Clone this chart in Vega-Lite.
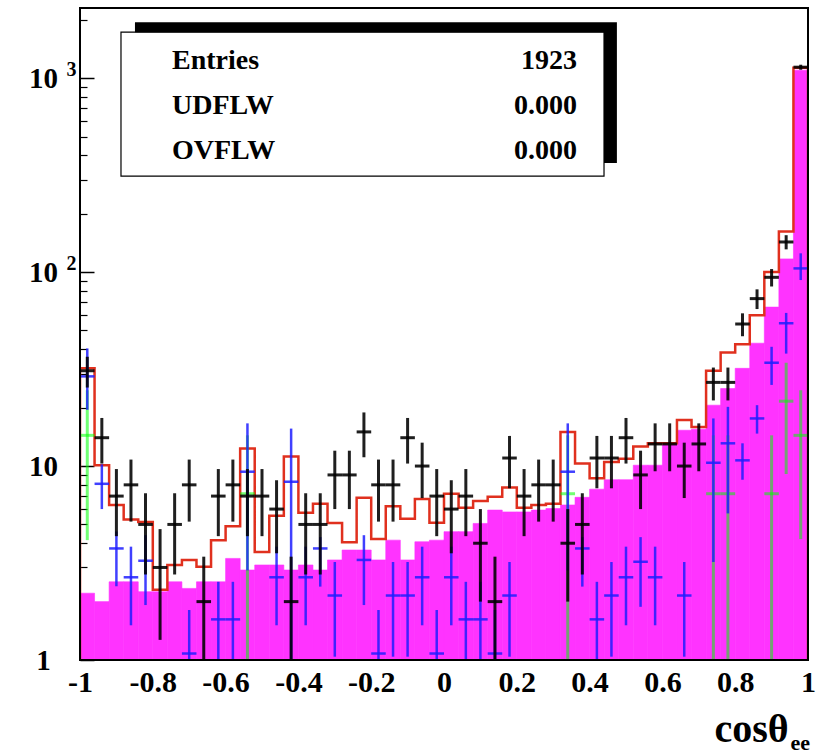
{
  "$schema": "https://vega.github.io/schema/vega-lite/v6.json",
  "width": 728,
  "height": 652,
  "autosize": "none",
  "padding": {"left": 80, "top": 8, "right": 8, "bottom": 93},
  "background": "white",
  "config": {"view": {"stroke": null}, "font": "Liberation Serif"},
  "datasets": {
    "h": [
      {"x":-0.98,"lo":-1,"hi":-0.96,"m":2.21,"d":31,"dlo":25.4,"dhi":36.6,"b":29,"blo":19.5,"bhi":40.4,"g":14.4,"glo":4.15,"ghi":24.6},
      {"x":-0.94,"lo":-0.96,"hi":-0.92,"m":2.0,"d":14,"dlo":10.3,"dhi":17.7,"b":8.1,"blo":6.0,"bhi":10.2},
      {"x":-0.90,"lo":-0.92,"hi":-0.88,"m":2.53,"d":7,"dlo":4.35,"dhi":9.65,"b":3.76,"blo":2.4,"bhi":4.6},
      {"x":-0.86,"lo":-0.88,"hi":-0.84,"m":2.53,"d":8,"dlo":5.17,"dhi":10.8,"b":2.67,"blo":1.51,"bhi":3.84},
      {"x":-0.82,"lo":-0.84,"hi":-0.80,"m":2.25,"d":5,"dlo":2.76,"dhi":7.24,"b":3.25,"blo":1.92,"bhi":4.4},
      {"x":-0.78,"lo":-0.80,"hi":-0.76,"m":2.25,"d":3,"dlo":1.27,"dhi":4.73},
      {"x":-0.74,"lo":-0.76,"hi":-0.72,"m":2.53,"d":5,"dlo":2.76,"dhi":7.24},
      {"x":-0.70,"lo":-0.72,"hi":-0.68,"m":2.34,"d":8,"dlo":5.17,"dhi":10.8,"b":1.08,"blo":1,"bhi":1.81},
      {"x":-0.66,"lo":-0.68,"hi":-0.64,"m":2.53,"d":2,"dlo":1,"dhi":3.41},
      {"x":-0.62,"lo":-0.64,"hi":-0.60,"m":2.53,"d":7,"dlo":4.35,"dhi":9.65,"b":1.62,"blo":1,"bhi":2.53},
      {"x":-0.58,"lo":-0.60,"hi":-0.56,"m":3.34,"d":8,"dlo":5.17,"dhi":10.8,"b":1.62,"blo":1,"bhi":2.53},
      {"x":-0.54,"lo":-0.56,"hi":-0.52,"m":2.91,"d":7,"dlo":4.35,"dhi":9.65,"b":9.35,"blo":2.9,"bhi":16.6,"g":7.2,"glo":1,"ghi":14.4},
      {"x":-0.50,"lo":-0.52,"hi":-0.48,"m":3.09,"d":7,"dlo":4.35,"dhi":9.65},
      {"x":-0.46,"lo":-0.48,"hi":-0.44,"m":3.09,"d":6,"dlo":3.55,"dhi":8.45,"b":2.67,"blo":1.51,"bhi":3.84},
      {"x":-0.42,"lo":-0.44,"hi":-0.40,"m":2.91,"d":2,"dlo":1,"dhi":3.41,"b":8.3,"blo":1,"bhi":15.6},
      {"x":-0.38,"lo":-0.40,"hi":-0.36,"m":3.09,"d":5,"dlo":2.76,"dhi":7.24,"b":2.67,"blo":1.51,"bhi":3.84},
      {"x":-0.34,"lo":-0.36,"hi":-0.32,"m":2.91,"d":5,"dlo":2.76,"dhi":7.24,"b":3.76,"blo":2.39,"bhi":4.3},
      {"x":-0.30,"lo":-0.32,"hi":-0.28,"m":3.28,"d":9,"dlo":6,"dhi":12,"b":2.15,"blo":1.04,"bhi":3.2},
      {"x":-0.26,"lo":-0.28,"hi":-0.24,"m":3.69,"d":9,"dlo":6,"dhi":12},
      {"x":-0.22,"lo":-0.24,"hi":-0.20,"m":3.69,"d":15,"dlo":11.1,"dhi":18.9,"b":3.28,"blo":1.92,"bhi":4.4},
      {"x":-0.18,"lo":-0.20,"hi":-0.16,"m":3.28,"d":8,"dlo":5.17,"dhi":10.8,"b":1.08,"blo":1,"bhi":1.81},
      {"x":-0.14,"lo":-0.16,"hi":-0.12,"m":4.15,"d":8,"dlo":5.17,"dhi":10.8,"b":2.15,"blo":1.04,"bhi":3.2},
      {"x":-0.10,"lo":-0.12,"hi":-0.08,"m":3.28,"d":14,"dlo":10.3,"dhi":17.7,"b":2.15,"blo":1.04,"bhi":3.2},
      {"x":-0.06,"lo":-0.08,"hi":-0.04,"m":4.07,"d":10,"dlo":6.84,"dhi":13.2,"b":2.67,"blo":1.51,"bhi":3.84},
      {"x":-0.02,"lo":-0.04,"hi":0,"m":4.15,"d":7,"dlo":4.35,"dhi":9.65,"b":1.08,"blo":1,"bhi":1.81},
      {"x":0.02,"lo":0,"hi":0.04,"m":4.59,"d":6,"dlo":3.55,"dhi":8.45,"b":2.67,"blo":1.51,"bhi":3.84},
      {"x":0.06,"lo":0.04,"hi":0.08,"m":4.59,"d":7,"dlo":4.35,"dhi":9.65,"b":1.62,"blo":1,"bhi":2.53},
      {"x":0.10,"lo":0.08,"hi":0.12,"m":5.06,"d":4,"dlo":2,"dhi":6,"b":1.62,"blo":1,"bhi":2.53},
      {"x":0.14,"lo":0.12,"hi":0.16,"m":5.93,"d":2,"dlo":1,"dhi":3.41,"b":1.08,"blo":1,"bhi":1.81},
      {"x":0.18,"lo":0.16,"hi":0.20,"m":5.8,"d":11,"dlo":7.68,"dhi":14.3,"b":2.15,"blo":1.04,"bhi":3.2},
      {"x":0.22,"lo":0.20,"hi":0.24,"m":5.8,"d":7,"dlo":4.35,"dhi":9.65},
      {"x":0.26,"lo":0.24,"hi":0.28,"m":5.93,"d":8,"dlo":5.17,"dhi":10.8},
      {"x":0.30,"lo":0.28,"hi":0.32,"m":6.04,"d":8,"dlo":5.17,"dhi":10.8},
      {"x":0.34,"lo":0.32,"hi":0.36,"m":6.3,"d":4,"dlo":2,"dhi":6,"b":9.35,"blo":2.9,"bhi":16.6,"g":7.2,"glo":1,"ghi":14.4},
      {"x":0.38,"lo":0.36,"hi":0.40,"m":6.9,"d":5,"dlo":2.76,"dhi":7.24,"b":3.76,"blo":2.39,"bhi":4.3},
      {"x":0.42,"lo":0.40,"hi":0.44,"m":7.6,"d":11,"dlo":7.68,"dhi":14.3,"b":1.62,"blo":1,"bhi":2.53},
      {"x":0.46,"lo":0.44,"hi":0.48,"m":8.5,"d":11,"dlo":7.68,"dhi":14.3,"b":2.15,"blo":1.04,"bhi":3.2},
      {"x":0.50,"lo":0.48,"hi":0.52,"m":8.5,"d":14,"dlo":10.3,"dhi":17.7,"b":2.67,"blo":1.51,"bhi":3.84},
      {"x":0.54,"lo":0.52,"hi":0.56,"m":10.1,"d":9,"dlo":6,"dhi":12,"b":3.21,"blo":1.88,"bhi":4.3},
      {"x":0.58,"lo":0.56,"hi":0.60,"m":10.1,"d":13,"dlo":9.4,"dhi":16.6,"b":2.67,"blo":1.51,"bhi":3.84},
      {"x":0.62,"lo":0.60,"hi":0.64,"m":12.9,"d":13,"dlo":9.4,"dhi":16.6},
      {"x":0.66,"lo":0.64,"hi":0.68,"m":15.3,"d":10,"dlo":6.84,"dhi":13.2,"b":2.15,"blo":1.04,"bhi":3.2},
      {"x":0.70,"lo":0.68,"hi":0.72,"m":15.5,"d":13,"dlo":9.4,"dhi":16.6},
      {"x":0.74,"lo":0.72,"hi":0.76,"m":20.6,"d":27,"dlo":21.8,"dhi":32.2,"b":10.4,"blo":3.2,"bhi":17.6,"g":7.2,"glo":1,"ghi":14.4},
      {"x":0.78,"lo":0.76,"hi":0.80,"m":25.1,"d":27,"dlo":21.8,"dhi":32.2,"b":13.1,"blo":5.7,"bhi":20.2,"g":7.2,"glo":1,"ghi":14.4},
      {"x":0.82,"lo":0.80,"hi":0.84,"m":31.9,"d":54,"dlo":46.7,"dhi":61.3,"b":10.7,"blo":8.5,"bhi":13.1},
      {"x":0.86,"lo":0.84,"hi":0.88,"m":43,"d":73,"dlo":64.5,"dhi":81.5,"b":17.6,"blo":14.7,"bhi":20.6},
      {"x":0.90,"lo":0.88,"hi":0.92,"m":66,"d":94,"dlo":84.3,"dhi":103.7,"b":34.1,"blo":26.2,"bhi":41.2,"g":7.2,"glo":1,"ghi":14.4},
      {"x":0.94,"lo":0.92,"hi":0.96,"m":117,"d":143,"dlo":131,"dhi":155,"b":54.5,"blo":38,"bhi":61.6,"g":21.6,"glo":9.1,"ghi":34.1},
      {"x":0.98,"lo":0.96,"hi":1,"m":1100,"d":1139,"dlo":1105,"dhi":1173,"b":104.5,"blo":91,"bhi":125,"g":14.4,"glo":4.2,"ghi":24.6}
    ],
    "r": [
      {"k":0,"x":-1,"v":1},
      {"k":1,"x":-1,"v":31.9},{"k":2,"x":-0.96,"v":10.1},{"k":3,"x":-0.92,"v":6.3},{"k":4,"x":-0.88,"v":5.3},{"k":5,"x":-0.84,"v":5.15},
      {"k":6,"x":-0.80,"v":2.3},{"k":7,"x":-0.76,"v":3.09},{"k":8,"x":-0.72,"v":3.28},{"k":9,"x":-0.68,"v":3.03},{"k":10,"x":-0.64,"v":4.15},
      {"k":11,"x":-0.60,"v":4.9},{"k":12,"x":-0.56,"v":12.3},{"k":13,"x":-0.52,"v":3.6},{"k":14,"x":-0.48,"v":5.55},{"k":15,"x":-0.44,"v":11.2},
      {"k":16,"x":-0.40,"v":5.75},{"k":17,"x":-0.36,"v":6.4},{"k":18,"x":-0.32,"v":5.08},{"k":19,"x":-0.28,"v":4.05},{"k":20,"x":-0.24,"v":6.87},
      {"k":21,"x":-0.20,"v":4.2},{"k":22,"x":-0.16,"v":6.2},{"k":23,"x":-0.12,"v":5.35},{"k":24,"x":-0.08,"v":6.77},{"k":25,"x":-0.04,"v":5.1},
      {"k":26,"x":0,"v":7.2},{"k":27,"x":0.04,"v":6.1},{"k":28,"x":0.08,"v":6.6},{"k":29,"x":0.12,"v":6.95},{"k":30,"x":0.16,"v":7.75},
      {"k":31,"x":0.20,"v":6.1},{"k":32,"x":0.24,"v":6.3},{"k":33,"x":0.28,"v":6.4},{"k":34,"x":0.32,"v":15.0},{"k":35,"x":0.36,"v":10.3},
      {"k":36,"x":0.40,"v":8.64},{"k":37,"x":0.44,"v":10.5},{"k":38,"x":0.48,"v":10.9},{"k":39,"x":0.52,"v":12.6},{"k":40,"x":0.56,"v":13.1},
      {"k":41,"x":0.60,"v":13.1},{"k":42,"x":0.64,"v":17.3},{"k":43,"x":0.68,"v":15.9},{"k":44,"x":0.72,"v":31},{"k":45,"x":0.76,"v":38.5},
      {"k":46,"x":0.80,"v":42.5},{"k":47,"x":0.84,"v":60},{"k":48,"x":0.88,"v":100},{"k":49,"x":0.92,"v":162},{"k":50,"x":0.96,"v":1130},
      {"k":51,"x":1,"v":1130},{"k":52,"x":1,"v":1}
    ],
    "one": [{}]
  },
  "layer": [
    {
      "data": {"name": "h"},
      "mark": {"type": "rect", "color": "#ff33ff", "stroke": "#ff33ff", "strokeWidth": 0.6, "clip": true},
      "encoding": {
        "x": {"field": "lo", "type": "quantitative",
          "scale": {"domain": [-1, 1], "nice": false, "zero": false},
          "axis": {"orient": "bottom", "values": [-1,-0.8,-0.6,-0.4,-0.2,0,0.2,0.4,0.6,0.8,1],
            "labelExpr": "replace(format(datum.value, '~g'), '\u2212', '-')",
            "labelFont": "Liberation Serif", "labelFontWeight": "bold", "labelFontSize": 30, "labelColor": "black",
            "labelPadding": 7, "labelFlush": false, "labelOverlap": false, "labelBound": false,
            "ticks": false, "domain": false, "grid": false,
            "title": "cosθ", "titleFont": "Liberation Serif", "titleFontWeight": "bold", "titleFontSize": 40, "titleColor": "black",
            "titleX": 634, "titleY": 81, "titleAlign": "left", "titleBaseline": "alphabetic", "titleAngle": 0}},
        "x2": {"field": "hi"},
        "y": {"field": "m", "type": "quantitative",
          "scale": {"type": "log", "domain": [1, 2300], "nice": false},
          "axis": {"orient": "left", "values": [1, 10, 100, 1000],
            "labelExpr": "datum.value == 1 ? '1' : '10'",
            "labelFont": "Liberation Serif", "labelFontWeight": "bold", "labelFontSize": 29, "labelColor": "black",
            "labelAlign": "center", "labelBaseline": "middle", "labelPadding": 37,
            "labelFlush": false, "labelOverlap": false, "labelBound": false,
            "ticks": false, "domain": false, "grid": false, "title": null}},
        "y2": {"datum": 1}
      }
    },
    {
      "data": {"name": "r"},
      "mark": {"type": "line", "interpolate": "step-after", "color": "#e0301e", "strokeWidth": 2.5, "clip": true},
      "encoding": {
        "x": {"field": "x", "type": "quantitative",
          "axis": {"orient": "bottom", "labels": false, "ticks": false, "domain": false, "grid": false,
            "title": "ee", "titleFont": "Liberation Serif", "titleFontWeight": "bold", "titleFontSize": 22, "titleColor": "black",
            "titleX": 710, "titleY": 89, "titleAlign": "left", "titleBaseline": "alphabetic", "titleAngle": 0}},
        "y": {"field": "v", "type": "quantitative",
          "axis": {"orient": "left", "values": [100, 1000],
            "labelExpr": "datum.value == 1000 ? '3' : '2'",
            "labelFont": "Liberation Serif", "labelFontWeight": "bold", "labelFontSize": 20, "labelColor": "black",
            "labelAlign": "center", "labelBaseline": "middle", "labelPadding": 9, "labelOffset": -9,
            "labelFlush": false, "labelOverlap": false, "labelBound": false,
            "ticks": false, "domain": false, "grid": false, "title": null}},
        "order": {"field": "k", "type": "quantitative"}
      }
    },
    {
      "data": {"name": "h"},
      "transform": [{"filter": "datum.g != null"}],
      "mark": {"type": "rule", "color": "#00ff00", "strokeWidth": 3, "opacity": 0.55, "clip": true},
      "encoding": {
        "x": {"field": "x", "type": "quantitative", "axis": null},
        "y": {"field": "glo", "type": "quantitative", "axis": null},
        "y2": {"field": "ghi"}
      }
    },
    {
      "data": {"name": "h"},
      "transform": [{"filter": "datum.g != null"}],
      "mark": {"type": "rule", "color": "#00ff00", "strokeWidth": 3, "opacity": 0.55, "clip": true},
      "encoding": {
        "x": {"field": "lo", "type": "quantitative", "axis": null},
        "x2": {"field": "hi"},
        "y": {"field": "g", "type": "quantitative", "axis": null}
      }
    },
    {
      "data": {"name": "h"},
      "transform": [{"filter": "datum.b != null"}],
      "mark": {"type": "rule", "color": "#1e1eff", "strokeWidth": 2.5, "opacity": 0.85, "clip": true},
      "encoding": {
        "x": {"field": "x", "type": "quantitative", "axis": null},
        "y": {"field": "blo", "type": "quantitative", "axis": null},
        "y2": {"field": "bhi"}
      }
    },
    {
      "data": {"name": "h"},
      "transform": [{"filter": "datum.b != null"}],
      "mark": {"type": "rule", "color": "#1e1eff", "strokeWidth": 2.5, "opacity": 0.85, "clip": true},
      "encoding": {
        "x": {"field": "lo", "type": "quantitative", "axis": null},
        "x2": {"field": "hi"},
        "y": {"field": "b", "type": "quantitative", "axis": null}
      }
    },
    {
      "data": {"name": "h"},
      "transform": [{"filter": "datum.d != null"}],
      "mark": {"type": "rule", "color": "black", "strokeWidth": 3, "opacity": 0.88, "clip": true},
      "encoding": {
        "x": {"field": "x", "type": "quantitative", "axis": null},
        "y": {"field": "dlo", "type": "quantitative",
          "axis": {"orient": "left", "values": [1, 10, 100, 1000], "labels": false, "domain": false, "grid": false,
            "ticks": true, "tickSize": -14, "tickWidth": 1.5, "tickColor": "black", "title": null}},
        "y2": {"field": "dhi"}
      }
    },
    {
      "data": {"name": "h"},
      "transform": [{"filter": "datum.d != null"}],
      "mark": {"type": "rule", "color": "black", "strokeWidth": 3, "opacity": 0.88, "clip": true},
      "encoding": {
        "x": {"field": "lo", "type": "quantitative", "axis": null},
        "x2": {"field": "hi"},
        "y": {"field": "d", "type": "quantitative",
          "axis": {"orient": "left", "values": [2,3,4,5,6,7,8,9,20,30,40,50,60,70,80,90,200,300,400,500,600,700,800,900,2000],
            "labels": false, "domain": false, "grid": false,
            "ticks": true, "tickSize": -7, "tickWidth": 1.2, "tickColor": "black", "title": null}}
      }
    },
    {
      "data": {"name": "one"},
      "mark": {"type": "rect", "fill": "black"},
      "encoding": {
        "x": {"datum": -0.849, "type": "quantitative", "axis": null},
        "x2": {"datum": 0.475},
        "y": {"datum": 1944, "type": "quantitative", "axis": null},
        "y2": {"datum": 364.7}
      }
    },
    {
      "data": {"name": "one"},
      "mark": {"type": "rect", "fill": "white", "stroke": "black", "strokeWidth": 1.2},
      "encoding": {
        "x": {"datum": -0.8874, "type": "quantitative", "axis": null},
        "x2": {"datum": 0.4396},
        "y": {"datum": 1726, "type": "quantitative", "axis": null},
        "y2": {"datum": 312.4}
      }
    },
    {
      "data": {"name": "one"},
      "mark": {"type": "text", "text": ["Entries", "UDFLW", "OVFLW"], "lineHeight": 45,
        "align": "left", "baseline": "middle", "font": "Liberation Serif", "fontWeight": "bold", "fontSize": 28, "color": "black"},
      "encoding": {
        "x": {"datum": -0.7473, "type": "quantitative", "axis": null},
        "y": {"datum": 1223.6, "type": "quantitative", "axis": null}
      }
    },
    {
      "data": {"name": "one"},
      "mark": {"type": "text", "text": ["1923", "0.000", "0.000"], "lineHeight": 45,
        "align": "right", "baseline": "middle", "font": "Liberation Serif", "fontWeight": "bold", "fontSize": 28, "color": "black"},
      "encoding": {
        "x": {"datum": 0.3654, "type": "quantitative", "axis": null},
        "y": {"datum": 1223.6, "type": "quantitative", "axis": null}
      }
    },
    {
      "data": {"name": "one"},
      "mark": {"type": "rect", "fill": null, "fillOpacity": 0, "stroke": "black", "strokeWidth": 2},
      "encoding": {
        "x": {"datum": -1, "type": "quantitative", "axis": null},
        "x2": {"datum": 1},
        "y": {"datum": 1, "type": "quantitative", "axis": null},
        "y2": {"datum": 2300}
      }
    }
  ],
  "resolve": {"axis": {"x": "independent", "y": "independent"}}
}
